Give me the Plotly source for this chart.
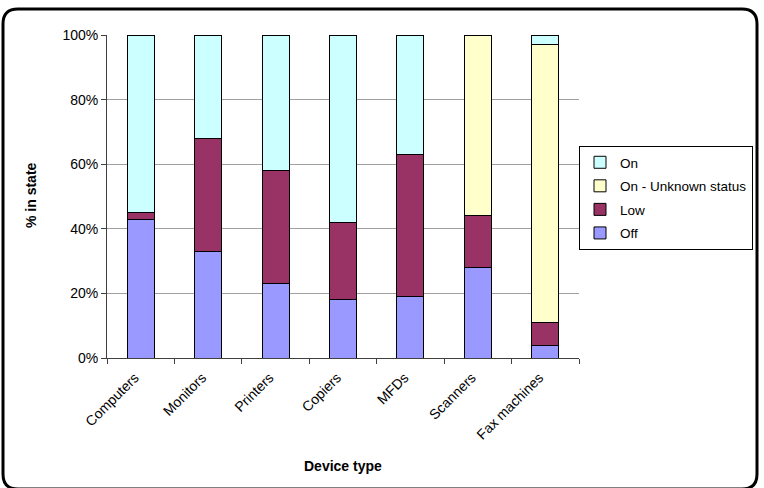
import plotly.graph_objects as go

categories = ["Computers", "Monitors", "Printers", "Copiers", "MFDs", "Scanners", "Fax machines"]
off_vals = [43, 33, 23, 18, 19, 28, 4]
low_vals = [2, 35, 35, 24, 44, 16, 7]
unknown_vals = [0, 0, 0, 0, 0, 56, 86]
on_vals = [55, 32, 42, 58, 37, 0, 3]

series = [
    ("Off", off_vals, "#9999FF", 4),
    ("Low", low_vals, "#993366", 3),
    ("On - Unknown status", unknown_vals, "#FFFFCC", 2),
    ("On", on_vals, "#CCFFFF", 1),
]

W, H = 764, 488
ML, MR, T, B = 107, 10, 35, 358   # margins / plot top-bottom pixels
PR = 579                          # plot right edge pixel
PW = W - ML - MR

fig = go.Figure()
for name, vals, color, rank in series:
    fig.add_trace(go.Bar(
        x=categories, y=vals, name=name, legendgroup=name, legendrank=rank,
        marker=dict(color=color, line=dict(color="black", width=1)),
    ))

def px2paper(x, y):
    return (x - ML) / PW, (B - y) / (B - T)

# rounded outer border
x0, y0, x1, y1, r = 3, 9, 757, 489, 15
def P(x, y):
    a, b = px2paper(x, y)
    return f"{a:.5f},{b:.5f}"
path = (f"M {P(x0+r, y0)} L {P(x1-r, y0)} Q {P(x1, y0)} {P(x1, y0+r)} "
        f"L {P(x1, y1-r)} Q {P(x1, y1)} {P(x1-r, y1)} "
        f"L {P(x0+r, y1)} Q {P(x0, y1)} {P(x0, y1-r)} "
        f"L {P(x0, y0+r)} Q {P(x0, y0)} {P(x0+r, y0)} Z")

fig.update_layout(
    width=W, height=H,
    margin=dict(l=ML, r=MR, t=T, b=H - B),
    paper_bgcolor="white", plot_bgcolor="white",
    barmode="stack", bargap=0.6,
    font=dict(family="Liberation Sans, Arial, sans-serif", size=14, color="black"),
    showlegend=True,
    legend=dict(
        xref="paper", yref="paper", x=px2paper(753, 0)[0], y=px2paper(0, 146)[1],
        xanchor="right", yanchor="top",
        traceorder="grouped", tracegroupgap=3,
        bordercolor="black", borderwidth=1, bgcolor="white",
        font=dict(size=13.5), itemwidth=30,
    ),
    xaxis=dict(
        type="category", domain=[0, (PR - ML) / PW],
        showgrid=False, showline=True, linecolor="#404040",
        linewidth=1, ticks="outside", tickson="boundaries", ticklen=5,
        tickcolor="#404040", tickangle=-45, tickfont=dict(size=14),
        ticklabelshift=-6, ticklabelstandoff=5,
    ),
    yaxis=dict(
        range=[0, 100], tickvals=[0, 20, 40, 60, 80, 100],
        ticktext=["0%", "20%", "40%", "60%", "80%", "100%"],
        showgrid=True, gridcolor="#A0A0A0", gridwidth=1,
        showline=True, linecolor="#404040", linewidth=1,
        ticks="outside", ticklen=5, tickcolor="#404040",
        tickfont=dict(size=14), zeroline=False,
    ),
    annotations=[
        dict(text="<b>% in state</b>", xref="paper", yref="paper",
             x=px2paper(31, 0)[0], y=px2paper(0, 195)[1], showarrow=False,
             textangle=-90, font=dict(size=14), xanchor="center", yanchor="middle"),
        dict(text="<b>Device type</b>", xref="paper", yref="paper",
             x=px2paper(343, 0)[0], y=px2paper(0, 466)[1], showarrow=False,
             font=dict(size=14), xanchor="center", yanchor="middle"),
    ],
    shapes=[dict(type="path", xref="paper", yref="paper", path=path,
                 line=dict(color="black", width=3), layer="above")],
)

fig.write_html("out.html")
